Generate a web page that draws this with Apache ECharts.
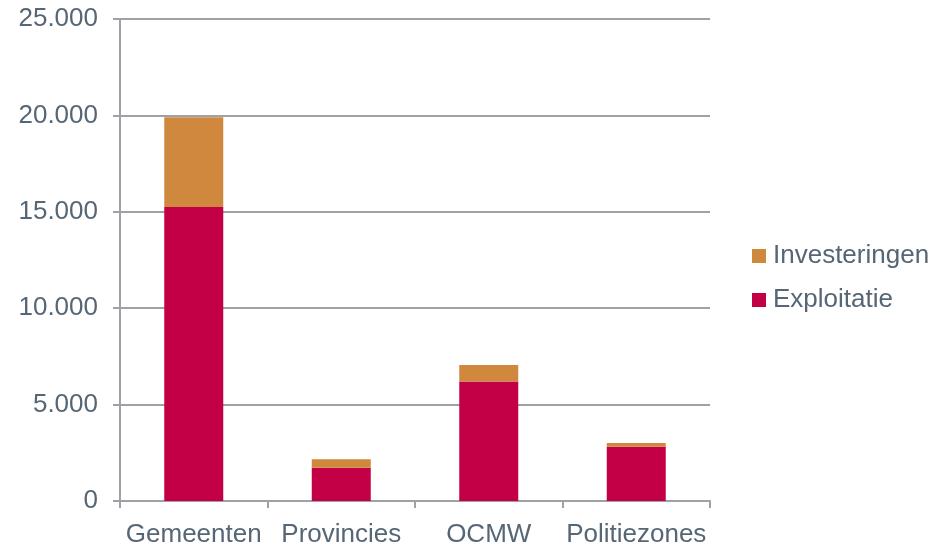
<!DOCTYPE html>
<html lang="nl">
<head>
<meta charset="UTF-8">
<title>Exploitatie en investeringen</title>
<script src="https://cdn.jsdelivr.net/npm/echarts@6/dist/echarts.min.js"></script>
<style>
  html, body { margin: 0; padding: 0; background: #fff; }
  #chart { width: 947px; height: 548px; }
</style>
</head>
<body>
<div id="chart"></div>
<script>
var categories = ['Gemeenten', 'Provincies', 'OCMW', 'Politiezones'];
var exploitatie = [15250, 1730, 6200, 2810];
var investeringen = [4650, 430, 850, 195];
var yTicks = [0, 5000, 10000, 15000, 20000, 25000];

var textColor = '#566675';
var lineColor = '#9ea1a6';
var fs = 26;

var chart = echarts.init(document.getElementById('chart'));
chart.setOption({
  animation: false,
  textStyle: { fontFamily: 'Liberation Sans, Arial, sans-serif' },
  grid: { left: 120, right: 237, top: 19, bottom: 47 },
  legend: {
    orient: 'vertical',
    left: 747,
    top: 238,
    itemWidth: 14,
    itemHeight: 14,
    itemGap: 18,
    icon: 'rect',
    data: ['Investeringen', 'Exploitatie'],
    textStyle: { color: textColor, fontSize: fs, padding: [0, 0, 0, 2] }
  },
  xAxis: {
    type: 'category',
    data: categories,
    axisLine: { lineStyle: { color: lineColor, width: 2 } },
    axisTick: { show: true, interval: 0, length: 7, lineStyle: { color: lineColor, width: 2 } },
    axisLabel: { color: textColor, fontSize: fs, margin: 21, interval: 0, hideOverlap: false }
  },
  yAxis: {
    type: 'value',
    min: 0,
    max: yTicks[yTicks.length - 1],
    interval: yTicks[1] - yTicks[0],
    axisLine: { show: true, lineStyle: { color: lineColor, width: 2 } },
    axisTick: { show: true, length: 7, lineStyle: { color: lineColor, width: 2 } },
    splitLine: { lineStyle: { color: lineColor, width: 2 } },
    axisLabel: {
      color: textColor,
      fontSize: fs,
      margin: 22,
      formatter: function (v) {
        return v === 0 ? '0' : String(v).replace(/\B(?=(\d{3})+(?!\d))/g, '.');
      }
    }
  },
  series: [
    {
      name: 'Exploitatie',
      type: 'bar',
      stack: 'total',
      barWidth: '40%',
      itemStyle: { color: '#c30045' },
      data: exploitatie
    },
    {
      name: 'Investeringen',
      type: 'bar',
      stack: 'total',
      barWidth: '40%',
      itemStyle: { color: '#d0883e' },
      data: investeringen
    }
  ]
});
</script>
</body>
</html>
